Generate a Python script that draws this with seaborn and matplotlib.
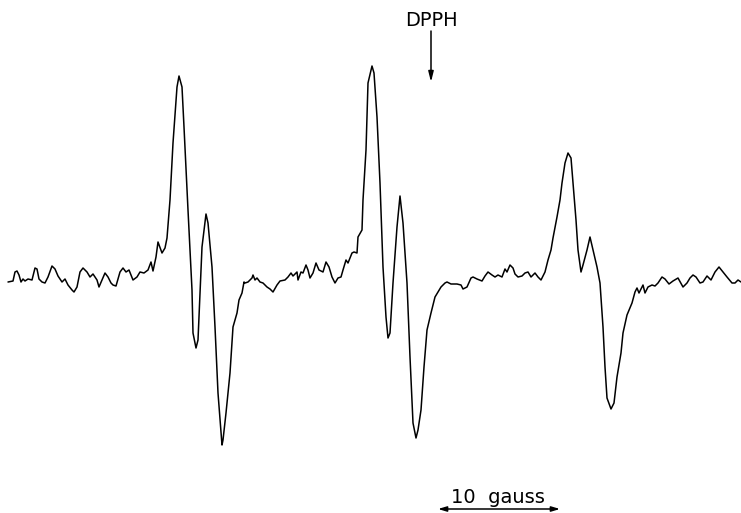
import matplotlib
matplotlib.use("Agg")
import matplotlib.pyplot as plt
import seaborn as sns
import pandas as pd

# EPR trace: field position (px) and pen deflection (px, downward)
field = [8, 13, 15, 17, 19, 21, 23, 25, 28, 32, 35, 37, 39, 42, 45, 48, 52, 55, 58, 62,
         65, 68, 72, 74, 77, 80, 83, 87, 90, 93, 97, 99, 102, 105, 108, 111, 113, 116, 120, 123,
         126, 129, 133, 137, 140, 144, 148, 151, 153, 156, 158, 162, 165, 167, 170, 173, 177, 179, 182, 184,
         188, 192, 193, 196, 198, 202, 206, 208, 212, 215, 218, 222, 223, 226, 230, 233, 237, 239, 242, 244,
         245, 248, 252, 253, 255, 257, 260, 263, 267, 270, 273, 277, 280, 285, 288, 291, 293, 297, 298, 301,
         303, 306, 308, 310, 313, 316, 319, 323, 326, 329, 332, 335, 338, 341, 343, 346, 348, 352, 354, 357,
         358, 362, 363, 366, 368, 372, 374, 377, 380, 383, 386, 388, 390, 393, 397, 400, 403, 407, 410, 413,
         416, 418, 421, 424, 427, 431, 435, 438, 441, 445, 447, 451, 457, 461, 463, 467, 471, 473, 477, 482,
         485, 488, 492, 495, 498, 502, 505, 507, 510, 513, 515, 518, 522, 525, 528, 531, 535, 538, 541, 545,
         548, 551, 553, 557, 560, 562, 565, 568, 571, 573, 576, 578, 581, 583, 587, 590, 593, 597, 600, 603,
         605, 607, 611, 614, 617, 621, 623, 627, 632, 635, 637, 639, 643, 645, 648, 652, 655, 658, 662, 665,
         669, 673, 678, 683, 687, 690, 693, 696, 700, 703, 707, 711, 715, 719, 723, 727, 732, 735, 738, 741]
deflection = [282, 281, 272, 271, 275, 282, 279, 281, 279, 280, 268, 269, 279, 282, 283, 277, 266, 269, 276, 282,
              279, 285, 290, 292, 287, 272, 268, 272, 277, 274, 280, 287, 280, 273, 277, 283, 285, 286, 272, 268,
              272, 270, 280, 277, 272, 273, 270, 262, 271, 257, 242, 253, 248, 238, 200, 143, 87, 76, 87, 127,
              210, 290, 333, 348, 340, 247, 214, 223, 267, 327, 393, 445, 440, 413, 373, 327, 313, 300, 293, 282,
              283, 282, 278, 275, 280, 278, 282, 283, 287, 289, 292, 285, 281, 280, 277, 273, 276, 272, 280, 272,
              273, 265, 270, 278, 273, 263, 270, 272, 262, 267, 277, 283, 278, 277, 270, 260, 263, 253, 252, 253,
              237, 230, 200, 150, 83, 66, 73, 117, 183, 267, 317, 338, 333, 283, 227, 196, 223, 283, 357, 423,
              438, 430, 410, 367, 330, 313, 297, 292, 287, 283, 282, 284, 284, 285, 289, 287, 278, 277, 279, 281,
              276, 272, 275, 277, 275, 277, 269, 272, 265, 268, 274, 277, 276, 273, 272, 277, 273, 277, 280, 272,
              260, 250, 238, 217, 200, 183, 163, 153, 158, 183, 220, 250, 272, 265, 250, 237, 250, 267, 283, 327,
              367, 398, 409, 403, 377, 353, 333, 315, 303, 292, 288, 293, 285, 293, 287, 285, 286, 283, 277, 279,
              284, 281, 278, 287, 283, 278, 275, 277, 283, 282, 276, 280, 272, 267, 272, 277, 283, 283, 280, 282]

df = pd.DataFrame({"field": field, "deflection": deflection})

sns.set_style("white")
fig = plt.figure(figsize=(7.41, 5.13), dpi=100)
ax = fig.add_axes([0, 0, 1, 1])

sns.lineplot(data=df, x="field", y="deflection", sort=False, estimator=None,
             color="black", linewidth=1.1, ax=ax)

ax.set_xlim(0, 741)
ax.set_ylim(513, 0)
ax.axis("off")

# DPPH marker
ax.text(431.5, 20, "DPPH", ha="center", va="center", fontsize=14, color="black")
ax.annotate("", xy=(431, 82), xytext=(431, 31),
            arrowprops=dict(arrowstyle="-|>,head_length=0.6,head_width=0.15",
                            color="black", lw=1.1, shrinkA=0, shrinkB=0))

# 10 gauss scale bar
ax.text(498, 503, "10  gauss", ha="center", va="baseline", fontsize=14, color="black")
ax.annotate("", xy=(438, 509), xytext=(560, 509),
            arrowprops=dict(arrowstyle="<|-|>,head_length=0.5,head_width=0.15",
                            color="black", lw=1.1, shrinkA=0, shrinkB=0))

fig.savefig("out.png", dpi=100)
